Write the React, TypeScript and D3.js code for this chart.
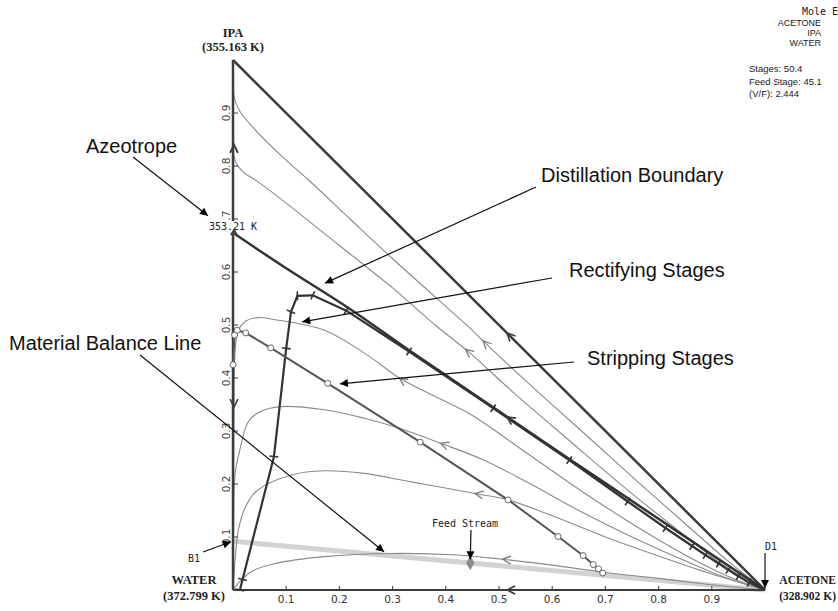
import React, { useEffect, useRef } from "react";
import * as d3 from "d3";

type Pt = [number, number]; // [acetone, ipa] mole fraction

const tickValues = [0.1, 0.2, 0.3, 0.4, 0.5, 0.6, 0.7, 0.8, 0.9];
const tickLabels = ["0.1", "0.2", "0.3", "0.4", "0.5", "0.6", "0.7", "0.8", "0.9"];

const hypotenuse: Pt[] = [[0, 1], [1, 0]];
const waterIpaEdge: Pt[] = [[0, 0], [0, 1]];
const waterAcetoneEdge: Pt[] = [[0, 0], [1, 0]];

// residue curves above the boundary
const residueA: Pt[] = [
  [0, 0.943], [0.005, 0.92], [0.015, 0.9], [0.04, 0.87], [0.09, 0.82], [0.1416, 0.774],
  [0.22, 0.7], [0.3, 0.625], [0.38, 0.553], [0.4455, 0.494], [0.47, 0.47], [0.55, 0.395],
  [0.674, 0.283], [0.76, 0.205], [0.85, 0.125], [0.93, 0.055], [1, 0],
];
const residueB: Pt[] = [
  [0, 0.83], [0.006, 0.805], [0.02, 0.788], [0.0445, 0.772], [0.1, 0.73], [0.2, 0.65],
  [0.3, 0.57], [0.38, 0.5], [0.4455, 0.447], [0.53, 0.37], [0.631, 0.283], [0.74, 0.19],
  [0.84, 0.11], [0.92, 0.048], [1, 0],
];
// residue curves below the boundary
const residueC: Pt[] = [
  [0, 0], [0.001, 0.2], [0.002, 0.35], [0.004, 0.45], [0.01, 0.49], [0.025, 0.508],
  [0.047, 0.514], [0.08, 0.51], [0.172, 0.49], [0.25, 0.445], [0.313, 0.4], [0.38, 0.365],
  [0.444, 0.333], [0.55, 0.26], [0.65, 0.19], [0.75, 0.125], [0.85, 0.066], [0.93, 0.026], [1, 0],
];
const residueD: Pt[] = [
  [0, 0], [0.001, 0.12], [0.004, 0.22], [0.013, 0.265], [0.029, 0.318], [0.05, 0.336],
  [0.09, 0.346], [0.172, 0.34], [0.247, 0.324], [0.31, 0.306], [0.39, 0.277], [0.472, 0.245],
  [0.55, 0.205], [0.65, 0.15], [0.75, 0.1], [0.85, 0.055], [0.93, 0.022], [1, 0],
];
const residueE: Pt[] = [
  [0, 0], [0.002, 0.03], [0.004, 0.057], [0.01, 0.113], [0.025, 0.16], [0.047, 0.189],
  [0.11, 0.217], [0.172, 0.225], [0.247, 0.22], [0.335, 0.204], [0.455, 0.182], [0.517, 0.17],
  [0.6, 0.14], [0.7, 0.1], [0.8, 0.064], [0.9, 0.03], [1, 0],
];
const residueF: Pt[] = [
  [0, 0], [0.01, 0.013], [0.035, 0.035], [0.079, 0.05], [0.172, 0.063], [0.297, 0.069],
  [0.422, 0.066], [0.507, 0.058], [0.6, 0.047], [0.7, 0.033], [0.8, 0.022], [0.9, 0.01], [1, 0],
];

const boundary: Pt[] = [
  [0, 0.674], [0.1, 0.607], [0.217, 0.532], [0.333, 0.451], [0.5, 0.337], [0.632, 0.247],
  [0.75, 0.168], [0.87, 0.087], [1, 0],
];
const rectifying: Pt[] = [
  [0.013, 0], [0.018, 0.02], [0.077, 0.252], [0.1, 0.456], [0.109, 0.525], [0.121, 0.555],
  [0.15, 0.556], [0.213, 0.527], [0.331, 0.45], [0.489, 0.343], [0.632, 0.245], [0.742, 0.167],
  [0.813, 0.117], [0.863, 0.083], [0.888, 0.066], [0.913, 0.05], [0.931, 0.038], [0.95, 0.026],
  [0.97, 0.014], [1, 0],
];
const stripping: Pt[] = [
  [0, 0.425], [0.003, 0.481], [0.008, 0.49], [0.024, 0.485], [0.071, 0.457], [0.178, 0.39],
  [0.352, 0.279], [0.517, 0.17], [0.611, 0.101], [0.658, 0.065], [0.677, 0.048], [0.687, 0.04],
  [0.695, 0.032],
];
const balanceLine: Pt[] = [[0, 0.092], [1, 0]];
const feed: Pt = [0.446, 0.051];
const azeotrope: Pt = [0, 0.674];

const vertexNames = ["IPA", "WATER", "ACETONE"];
const vertexTemps = ["(355.163 K)", "(372.799 K)", "(328.902 K)"];
const azeotropeLabel = "353.21 K";
const components = ["ACETONE", "IPA", "WATER"];
const columnSpecs = ["Stages: 50.4", "Feed Stage: 45.1", "(V/F): 2.444"];

export default function App() {
  const ref = useRef<SVGSVGElement>(null);

  useEffect(() => {
    const svg = d3.select(ref.current);
    svg.selectAll("*").remove();

    const x = d3.scaleLinear().domain([0, 1]).range([233, 765]);
    const y = d3.scaleLinear().domain([0, 1]).range([590, 60]);

    const smooth = d3.line<Pt>().x((d) => x(d[0])).y((d) => y(d[1])).curve(d3.curveCatmullRom.alpha(0.5));
    const straight = d3.line<Pt>().x((d) => x(d[0])).y((d) => y(d[1]));

    const sans = "'Liberation Sans', Arial, sans-serif";
    const serif = "'Liberation Serif', 'Times New Roman', serif";
    const mono = "'DejaVu Sans Mono', monospace";

    svg.append("rect").attr("width", 838).attr("height", 611).attr("fill", "#fff");

    const defs = svg.append("defs");
    defs
      .append("marker")
      .attr("id", "head")
      .attr("viewBox", "0 0 10 10")
      .attr("refX", 10)
      .attr("refY", 5)
      .attr("markerWidth", 11)
      .attr("markerHeight", 8)
      .attr("markerUnits", "userSpaceOnUse")
      .attr("orient", "auto")
      .append("path")
      .attr("d", "M0,0L10,5L0,10z")
      .attr("fill", "#000");

    // material balance band
    svg.append("path").attr("d", straight(balanceLine)).attr("fill", "none")
      .attr("stroke", "#d2d2d2").attr("stroke-width", 5);

    // residue curves
    const residues = [residueA, residueB, residueC, residueD, residueE, residueF];
    svg.selectAll(".residue").data(residues).enter().append("path")
      .attr("class", "residue")
      .attr("d", (d) => smooth(d))
      .attr("fill", "none")
      .attr("stroke", "#8a8a8a")
      .attr("stroke-width", 1.1);

    // triangle edges
    [hypotenuse, waterIpaEdge, waterAcetoneEdge].forEach((edge, k) => {
      svg.append("path").attr("d", straight(edge)).attr("fill", "none")
        .attr("stroke", "#3c3c3c").attr("stroke-width", k === 2 ? 2 : 2.5);
    });

    // ticks
    tickValues.forEach((t, k) => {
      svg.append("line").attr("x1", x(0)).attr("x2", x(0) + 5).attr("y1", y(t)).attr("y2", y(t))
        .attr("stroke", "#3c3c3c").attr("stroke-width", 1);
      svg.append("line").attr("x1", x(t)).attr("x2", x(t)).attr("y1", y(0)).attr("y2", y(0) - 4)
        .attr("stroke", "#3c3c3c").attr("stroke-width", 1);
      svg.append("text").attr("x", x(t)).attr("y", 603).attr("text-anchor", "middle")
        .attr("font-family", "'DejaVu Sans', sans-serif").attr("font-size", 10.5).attr("fill", "#333")
        .text(tickLabels[k]);
      svg.append("text").attr("transform", `translate(230,${y(t)}) rotate(-90)`)
        .attr("text-anchor", "middle")
        .attr("font-family", "'DejaVu Sans', sans-serif").attr("font-size", 10.5).attr("fill", "#444")
        .text(tickLabels[k]);
    });

    // distillation boundary
    svg.append("path").attr("d", smooth(boundary)).attr("fill", "none")
      .attr("stroke", "#333").attr("stroke-width", 2.5);

    // rectifying stages
    svg.append("path").attr("d", straight(rectifying)).attr("fill", "none")
      .attr("stroke", "#333").attr("stroke-width", 2.2);
    rectifying.slice(0, -1).forEach((p, k) => {
      const q = rectifying[k + 1];
      const dx = x(q[0]) - x(p[0]);
      const dy = y(q[1]) - y(p[1]);
      const n = Math.hypot(dx, dy) || 1;
      const nx = -dy / n, ny = dx / n;
      svg.append("line")
        .attr("x1", x(p[0]) - nx * 4.5).attr("y1", y(p[1]) - ny * 4.5)
        .attr("x2", x(p[0]) + nx * 4.5).attr("y2", y(p[1]) + ny * 4.5)
        .attr("stroke", "#333").attr("stroke-width", 1.6);
    });

    // stripping stages
    svg.append("path").attr("d", straight(stripping)).attr("fill", "none")
      .attr("stroke", "#555").attr("stroke-width", 2);
    svg.selectAll(".stage").data(stripping).enter().append("circle")
      .attr("class", "stage")
      .attr("cx", (d) => x(d[0])).attr("cy", (d) => y(d[1])).attr("r", 3)
      .attr("fill", "#fff").attr("stroke", "#666").attr("stroke-width", 1);

    // feed diamond
    svg.append("path")
      .attr("d", d3.symbol(d3.symbolDiamond, 60)())
      .attr("transform", `translate(${x(feed[0])},${y(feed[1])})`)
      .attr("fill", "#8c8c8c");

    // azeotrope label on a white box, then marker
    svg.append("rect").attr("x", x(azeotrope[0]) - 25).attr("y", 221).attr("width", 50).attr("height", 11)
      .attr("fill", "#fff");
    svg.append("path")
      .attr("d", d3.symbol(d3.symbolTriangle, 30)())
      .attr("transform", `translate(${x(azeotrope[0]) + 1},${y(azeotrope[1])})`)
      .attr("fill", "#444");

    // flow direction chevrons
    const chevron = (px: number, py: number, ux: number, uy: number, color: string, w: number) => {
      const len = 9, s = 0.45;
      const bx = -ux, by = -uy;
      const r = (ang: number): [number, number] => [
        bx * Math.cos(ang) - by * Math.sin(ang),
        bx * Math.sin(ang) + by * Math.cos(ang),
      ];
      const [ax1, ay1] = r(s);
      const [ax2, ay2] = r(-s);
      svg.append("path")
        .attr("d", `M${px + ax1 * len},${py + ay1 * len}L${px},${py}L${px + ax2 * len},${py + ay2 * len}`)
        .attr("fill", "none").attr("stroke", color).attr("stroke-width", w);
    };
    const flowOn = (pts: Pt[], a: number, color: string, w: number) => {
      for (let k = 0; k < pts.length - 1; k++) {
        const [a0, i0] = pts[k];
        const [a1, i1] = pts[k + 1];
        if (a0 !== a1 && (a - a0) * (a - a1) <= 0) {
          const t = (a - a0) / (a1 - a0);
          const px = x(a0 + t * (a1 - a0));
          const py = y(i0 + t * (i1 - i0));
          const dx = x(a0) - x(a1), dy = y(i0) - y(i1);
          const n = Math.hypot(dx, dy);
          chevron(px, py, dx / n, dy / n, color, w);
          return;
        }
      }
    };
    flowOn(hypotenuse, 0.515, "#3c3c3c", 1.6);
    flowOn(residueA, 0.47, "#7a7a7a", 1.3);
    flowOn(residueB, 0.437, "#7a7a7a", 1.3);
    flowOn(boundary, 0.515, "#333", 1.6);
    flowOn(residueC, 0.313, "#7a7a7a", 1.3);
    flowOn(residueD, 0.39, "#7a7a7a", 1.3);
    flowOn(residueE, 0.455, "#7a7a7a", 1.3);
    flowOn(residueF, 0.507, "#7a7a7a", 1.3);
    flowOn(waterAcetoneEdge, 0.515, "#3c3c3c", 1.6);
    chevron(x(0) + 1, y(0.84), 0, -1, "#3c3c3c", 2);
    chevron(x(0) + 1, y(0.345), 0, 1, "#3c3c3c", 1.6);

    // vertex labels
    const bold = (tx: number, ty: number, s: string, anchor = "middle", size = 12.5) =>
      svg.append("text").attr("x", tx).attr("y", ty).attr("text-anchor", anchor)
        .attr("font-family", serif).attr("font-weight", "bold").attr("font-size", size)
        .attr("fill", "#222").text(s);
    bold(x(0), 37, vertexNames[0]);
    bold(x(0), 51, vertexTemps[0]);
    bold(194, 584, vertexNames[1]);
    bold(194, 600, vertexTemps[1]);
    bold(836, 584, vertexNames[2], "end", 11.5);
    bold(836, 600, vertexTemps[2], "end", 11.5);

    const small = (tx: number, ty: number, s: string, anchor = "middle") =>
      svg.append("text").attr("x", tx).attr("y", ty).attr("text-anchor", anchor)
        .attr("font-family", mono).attr("font-size", 10).attr("fill", "#222").text(s);
    small(x(azeotrope[0]), 230, azeotropeLabel);
    small(465, 527, "Feed Stream");
    small(194, 562, "B1");
    small(771, 550, "D1");
    small(802, 15, "Mole E", "start");

    components.forEach((c, k) => {
      svg.append("text").attr("x", 821).attr("y", 26 + k * 10).attr("text-anchor", "end")
        .attr("font-family", sans).attr("font-size", 9).attr("fill", "#222").text(c);
    });
    columnSpecs.forEach((c, k) => {
      svg.append("text").attr("x", 749).attr("y", 72 + k * 12.5)
        .attr("font-family", sans).attr("font-size", 9.5).attr("fill", "#222").text(c);
    });

    // annotations
    const notes: { text: string; tx: number; ty: number; from: [number, number]; to: Pt }[] = [
      { text: "Azeotrope", tx: 86, ty: 153, from: [133, 157], to: [-0.047, 0.706] },
      { text: "Distillation Boundary", tx: 541, ty: 182, from: [536, 187], to: [0.173, 0.579] },
      { text: "Rectifying Stages", tx: 569, ty: 277, from: [552, 278], to: [0.13, 0.506] },
      { text: "Stripping Stages", tx: 587, ty: 365, from: [574, 362], to: [0.201, 0.389] },
      { text: "Material Balance Line", tx: 9, ty: 350, from: [140, 355], to: [0.284, 0.072] },
    ];
    notes.forEach((n) => {
      svg.append("line").attr("x1", n.from[0]).attr("y1", n.from[1])
        .attr("x2", x(n.to[0])).attr("y2", y(n.to[1]))
        .attr("stroke", "#111").attr("stroke-width", 1.2).attr("marker-end", "url(#head)");
      svg.append("text").attr("x", n.tx).attr("y", n.ty)
        .attr("font-family", sans).attr("font-size", 20).attr("fill", "#111").text(n.text);
    });
    const pointers: { from: [number, number]; to: Pt }[] = [
      { from: [203, 552], to: [-0.004, 0.091] },
      { from: [765, 553], to: [1, 0.004] },
      { from: [471, 530], to: [0.446, 0.058] },
    ];
    pointers.forEach((p) => {
      svg.append("line").attr("x1", p.from[0]).attr("y1", p.from[1])
        .attr("x2", x(p.to[0])).attr("y2", y(p.to[1]))
        .attr("stroke", "#111").attr("stroke-width", 1.2).attr("marker-end", "url(#head)");
    });
  }, []);

  return <svg ref={ref} width={838} height={611} style={{ position: "absolute", left: 0, top: 0 }} />;
}
